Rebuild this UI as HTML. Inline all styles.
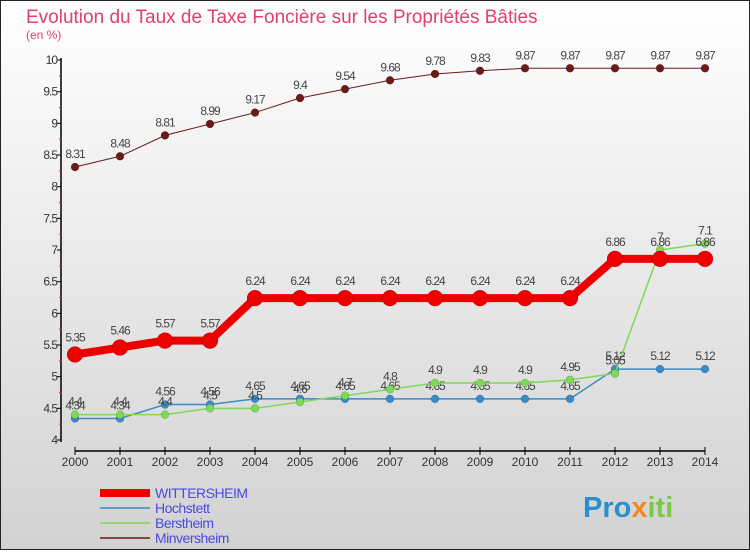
<!DOCTYPE html>
<html><head><meta charset="utf-8"><style>
body{margin:0;width:750px;height:550px;overflow:hidden;font-family:"Liberation Sans",sans-serif}
</style></head><body>
<svg id="c" width="750" height="550" xmlns="http://www.w3.org/2000/svg">
<defs><linearGradient id="bg" x1="0" y1="0" x2="0" y2="1"><stop offset="0" stop-color="#ffffff"/><stop offset="1" stop-color="#d2d2d2"/></linearGradient></defs>
<rect x="0.5" y="0.5" width="749" height="549" fill="url(#bg)" stroke="#222"/>
<text x="26" y="23" font-size="19" fill="#e0406a">Evolution du Taux de Taxe Foncière sur les Propriétés Bâties</text>
<text x="26" y="39" font-size="12" fill="#e0406a">(en %)</text>
<g id="axes"></g><g id="series"></g><g id="legend"></g>
<text x="583" y="517" font-size="29" font-weight="bold"><tspan fill="#2a8fd0">Pro</tspan><tspan fill="#f08a1a">x</tspan><tspan fill="#7ac943">iti</tspan></text>
</svg>
<script>
const years=[2000,2001,2002,2003,2004,2005,2006,2007,2008,2009,2010,2011,2012,2013,2014];
const yTicks=[4,4.5,5,5.5,6,6.5,7,7.5,8,8.5,9,9.5,10];
const wittersheim=[5.35,5.46,5.57,5.57,6.24,6.24,6.24,6.24,6.24,6.24,6.24,6.24,6.86,6.86,6.86];
const hochstett=[4.34,4.34,4.56,4.56,4.65,4.65,4.65,4.65,4.65,4.65,4.65,4.65,5.12,5.12,5.12];
const berstheim=[4.4,4.4,4.4,4.5,4.5,4.6,4.7,4.8,4.9,4.9,4.9,4.95,5.05,7,7.1];
const minversheim=[8.31,8.48,8.81,8.99,9.17,9.4,9.54,9.68,9.78,9.83,9.87,9.87,9.87,9.87,9.87];
const names=["WITTERSHEIM","Hochstett","Berstheim","Minversheim"];
const NS="http://www.w3.org/2000/svg";
const xs=i=>75+i*45, ys=v=>440-(v-4)*63.33;
function mk(p,t,a){const e=document.createElementNS(NS,t);for(const k in a)e.setAttribute(k,a[k]);p.appendChild(e);return e;}
const ax=document.getElementById('axes');
let l=mk(ax,'line',{x1:61,y1:58,x2:61,y2:442,stroke:'#000','stroke-width':1.5});


l=mk(ax,'line',{x1:75,y1:451,x2:705,y2:451,stroke:'#000','stroke-width':1.5});


yTicks.forEach((v,i)=>{const y=ys(v);
 mk(ax,'line',{x1:57,y1:y,x2:61,y2:y,stroke:'#000'});
 if(i<yTicks.length-1)mk(ax,'line',{x1:59,y1:ys(v+0.25),x2:62,y2:ys(v+0.25),stroke:'#e02020'});
 const t=mk(ax,'text',{x:57,y:y+4,'font-size':12,'text-anchor':'end',fill:'#333','letter-spacing':'-1'});t.textContent=v;
 
 });
years.forEach((yr,i)=>{const x=xs(i);mk(ax,'line',{x1:x,y1:447,x2:x,y2:455,stroke:'#000'});
 const t=mk(ax,'text',{x:x,y:466,'font-size':12,'text-anchor':'middle',fill:'#333'});t.textContent=yr;
 
 });
const sg=document.getElementById('series');
function series(data,color,w,r,name){const g=mk(sg,'g',{});
 
 
 mk(g,'polyline',{points:data.map((v,i)=>xs(i)+','+ys(v)).join(' '),fill:'none',stroke:color,'stroke-width':w,'stroke-linejoin':'round'});
 data.forEach((v,i)=>{const c=mk(g,'circle',{cx:xs(i),cy:ys(v),r:r,fill:color,stroke:'rgba(0,0,0,0.25)','stroke-width':0.5});
  
  
  const t=mk(g,'text',{x:xs(i),y:ys(v)-(r+5),'font-size':12,'text-anchor':'middle',fill:'#444','letter-spacing':'-1'});t.textContent=v;
  
  });}
series(minversheim,'#6b1a1a',1,4,'series-minversheim');
series(hochstett,'#3a8ac8',1.5,4,'series-hochstett');
series(berstheim,'#7ed957',1.5,4,'series-berstheim');
series(wittersheim,'#ee0000',8,8,'series-wittersheim');
const lg=document.getElementById('legend');
const cols=['#ee0000','#3a8ac8','#7ed957','#6b1a1a'],ws=[8,1.5,1.5,1.5];
names.forEach((n,i)=>{const y=493+i*15;const g=mk(lg,'g',{});
 
 
 mk(g,'line',{x1:100,y1:y,x2:150,y2:y,stroke:cols[i],'stroke-width':ws[i]});
 const t=mk(g,'text',{x:155,y:y+5,'font-size':14,fill:'#4a4ae0','letter-spacing':'-0.5'});t.textContent=n;});
</script>
</body></html>
